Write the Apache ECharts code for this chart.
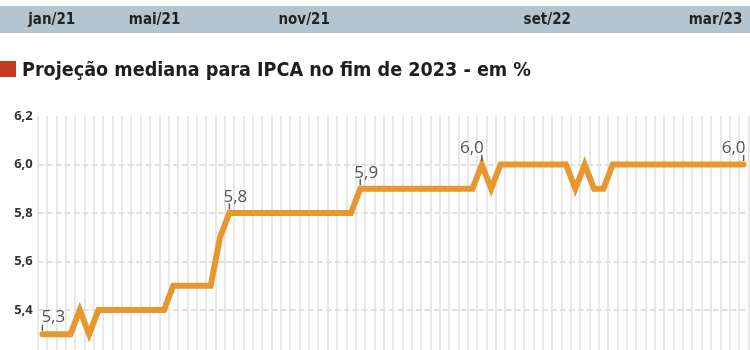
<!DOCTYPE html>
<html>
<head>
<meta charset="utf-8">
<script src="https://cdn.jsdelivr.net/npm/echarts@6/dist/echarts.min.js"></script>
<style>
html,body{margin:0;padding:0;background:#fff}
#main{width:750px;height:350px}
</style>
</head>
<body>
<div id="main"></div>
<script>
// projecao mediana IPCA 2023, uma leitura por ponto
var ipca = [
	5.3,5.3,5.3,5.3,5.4,5.3,5.4,5.4,5.4,5.4,
	5.4,5.4,5.4,5.4,5.5,5.5,5.5,5.5,5.5,5.7,
	5.8,5.8,5.8,5.8,5.8,5.8,5.8,5.8,5.8,5.8,
	5.8,5.8,5.8,5.8,5.9,5.9,5.9,5.9,5.9,5.9,
	5.9,5.9,5.9,5.9,5.9,5.9,5.9,6.0,5.9,6.0,
	6.0,6.0,6.0,6.0,6.0,6.0,6.0,5.9,6.0,5.9,
	5.9,6.0,6.0,6.0,6.0,6.0,6.0,6.0,6.0,6.0,
	6.0,6.0,6.0,6.0,6.0,6.0
];
var monthLabels = ['jan/21','mai/21','nov/21','set/22','mar/23'];
var monthIdx = [1, 12, 28, 54, 72];
var labelIdx = [0, 20, 34, 47, 75];
var yTicks = {min: 5.2, max: 6.2, step: 0.2};

var cats = [], topCats = [];
for(var i=0;i<ipca.length;i++){
	cats.push(String(i));
	var m = monthIdx.indexOf(i);
	topCats.push(m >= 0 ? monthLabels[m] : '');
}

var labelOffsets = {0:[-1,0], 20:[6,1], 34:[6,1], 47:[-10,1], 75:[-10,1]};
var tickData = [], textData = [];
for(var i=0;i<ipca.length;i++){
	if(labelIdx.indexOf(i) < 0){
		tickData.push('-');
		textData.push('-');
		continue;
	}
	tickData.push(ipca[i]);
	textData.push({
		value: ipca[i],
		label: {
			show: true,
			align: i == 0 ? 'left' : 'center',
			offset: labelOffsets[i]
		}
	});
}

function comma(v){
	return Number(v).toFixed(1).replace('.', ',');
}

var condensed = '"DejaVu Sans Condensed", Roboto, sans-serif';

var chart = echarts.init(document.getElementById('main'));
chart.setOption({
	animation: false,
	title: {
		text: 'Projeção mediana para IPCA no fim de 2023 - em %',
		left: 17,
		top: 56,
		textStyle: {
			fontFamily: condensed,
			fontWeight: 'bold',
			fontSize: 19.6,
			color: '#1e1e1e'
		}
	},
	graphic: [
		{type: 'rect', z: -10, shape: {x: 0, y: 6, width: 750, height: 27}, style: {fill: '#b5c5cf'}},
		{type: 'rect', shape: {x: 0, y: 61, width: 16, height: 16}, style: {fill: '#c23b22'}}
	],
	grid: [
		{left: 37.7, top: 116, width: 710.6, height: 242.5, outerBoundsMode: 'none', containLabel: false},
		{left: 37.7, top: 0, width: 710.6, height: 20, outerBoundsMode: 'none', containLabel: false}
	],
	xAxis: [
		{
			type: 'category',
			data: cats,
			gridIndex: 0,
			axisLine: {show: false},
			axisTick: {show: false},
			axisLabel: {show: false},
			splitLine: {show: true, interval: 0, lineStyle: {color: '#e1e1e1', width: 1.5}}
		},
		{
			type: 'category',
			data: topCats,
			gridIndex: 1,
			axisLine: {show: false},
			axisTick: {show: false},
			axisLabel: {
				interval: 0,
				margin: 0,
				verticalAlign: 'middle',
				fontFamily: condensed,
				fontWeight: 'bold',
				fontSize: 15,
				color: '#222'
			},
			splitLine: {show: false}
		}
	],
	yAxis: [
		{
			type: 'value',
			gridIndex: 0,
			min: yTicks.min,
			max: yTicks.max,
			interval: yTicks.step,
			axisLine: {show: false},
			axisTick: {show: false},
			axisLabel: {
				margin: 5,
				formatter: comma,
				fontFamily: 'Open Sans',
				fontWeight: 'bold',
				fontSize: 13,
				color: '#333'
			},
			splitLine: {show: true, showMaxLine: false, lineStyle: {color: '#d6d6d6', width: 1.5, type: [6, 3]}}
		},
		{type: 'value', gridIndex: 1, show: false}
	],
	series: [
		{
			type: 'line',
			data: ipca,
			symbol: 'none',
			z: 3,
			lineStyle: {color: '#e8962e', width: 6, cap: 'round', join: 'miter'}
		},
		{
			type: 'scatter',
			data: tickData,
			symbol: 'rect',
			symbolSize: [1.5, 6],
			symbolOffset: [0, -6.5],
			z: 4,
			itemStyle: {color: '#333'}
		},
		{
			type: 'scatter',
			data: textData,
			symbolSize: 1,
			z: 5,
			itemStyle: {color: 'rgba(0,0,0,0)'},
			label: {
				position: 'top',
				distance: 8,
				formatter: function(p){ return comma(p.value); },
				fontFamily: 'Open Sans',
				fontSize: 17,
				color: '#2a2a2a'
			}
		}
	]
});
</script>
</body>
</html>
